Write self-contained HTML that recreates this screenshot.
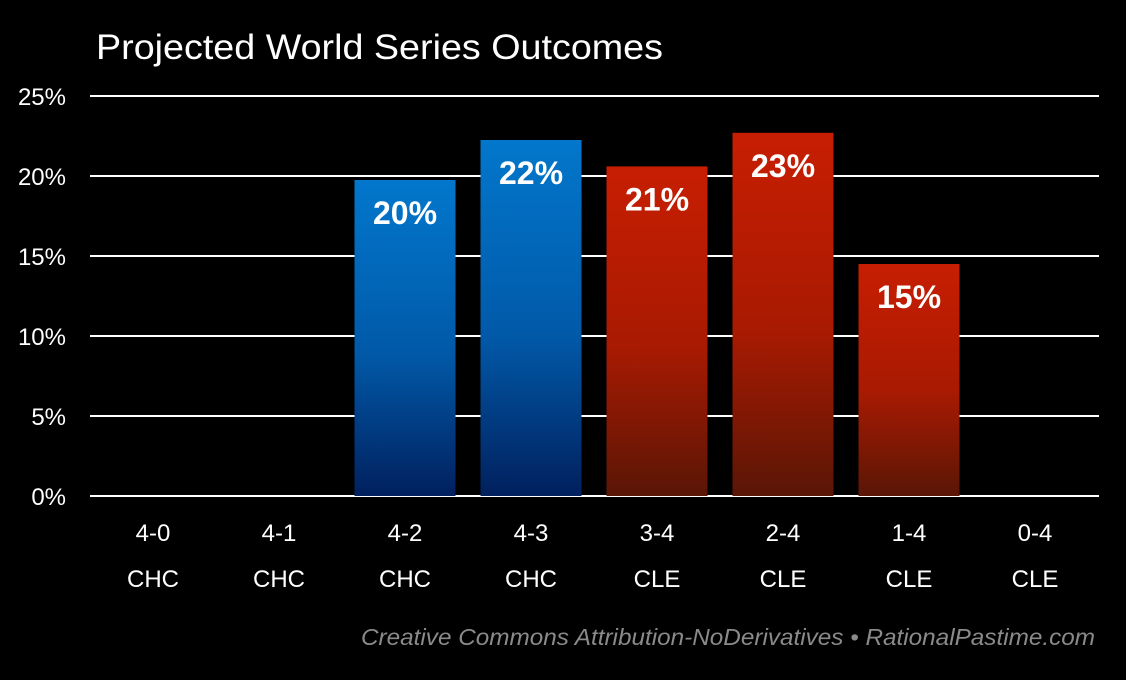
<!DOCTYPE html>
<html><head><meta charset="utf-8">
<style>
html,body{margin:0;padding:0;background:#000;}
svg{display:block;}
text{font-family:"Liberation Sans",sans-serif;}
</style></head>
<body>
<svg id="chart" width="1126" height="680" viewBox="0 0 1126 680" xmlns="http://www.w3.org/2000/svg">
<defs>
<linearGradient id="gBlue" x1="0" y1="0" x2="0" y2="1">
<stop offset="0" stop-color="#0277cc"/><stop offset="0.55" stop-color="#0159a8"/><stop offset="1" stop-color="#01205e"/>
</linearGradient>
<linearGradient id="gRed" x1="0" y1="0" x2="0" y2="1">
<stop offset="0" stop-color="#c71e02"/><stop offset="0.55" stop-color="#a81a02"/><stop offset="1" stop-color="#5a1606"/>
</linearGradient>
</defs>
<text x="96" y="59" font-size="35" fill="#fff" textLength="567" lengthAdjust="spacingAndGlyphs">Projected World Series Outcomes</text>
<g id="grid"></g>
<g id="bars"></g>
<g id="labels"></g>
<text x="361" y="645" font-size="23" font-style="italic" fill="#8a8a8a" textLength="734" lengthAdjust="spacingAndGlyphs">Creative Commons Attribution-NoDerivatives • RationalPastime.com</text>
</svg>
<script>
const categories = ["4-0","4-1","4-2","4-3","3-4","2-4","1-4","0-4"];
const teams = ["CHC","CHC","CHC","CHC","CLE","CLE","CLE","CLE"];
const values = [0,0,19.75,22.25,20.6,22.7,14.5,0];
const valueLabels = ["","","20%","22%","21%","23%","15%",""];
const yTicks = [0,5,10,15,20,25];

const NS="http://www.w3.org/2000/svg";
const y0=496, pxPer=16, x0=90, x1=1099, step=126, firstCenter=153, barW=101;
const yScale=v=>y0-v*pxPer;
const xCenter=i=>firstCenter+i*step;
function mk(tag,attrs,parent){const e=document.createElementNS(NS,tag);for(const k in attrs)e.setAttribute(k,attrs[k]);parent.appendChild(e);return e;}
const grid=document.getElementById('grid'), bars=document.getElementById('bars'), labels=document.getElementById('labels');
yTicks.forEach(t=>{
  const l=mk('line',{x1:x0,x2:x1,y1:yScale(t),y2:yScale(t),stroke:'#fff','stroke-width':2},grid);
  
  
  const tx=mk('text',{x:66,y:yScale(t)+9,'font-size':24,fill:'#fff','text-anchor':'end'},grid);
  tx.textContent=t+'%';
  
  
});
categories.forEach((c,i)=>{
  const cx=xCenter(i);
  if(values[i]>0){
    const r=mk('rect',{x:cx-barW/2,y:yScale(values[i]),width:barW,height:values[i]*pxPer,fill:teams[i]==='CHC'?'url(#gBlue)':'url(#gRed)'},bars);
    
    
    const v=mk('text',{x:cx,y:yScale(values[i])+44,'font-size':32,'font-weight':'bold',fill:'#fff','text-anchor':'middle'},labels);
    v.textContent=valueLabels[i];
    
    
  }
  const a=mk('text',{x:cx,y:541,'font-size':24,fill:'#fff','text-anchor':'middle'},labels);
  a.textContent=c;
  
  
  const b=mk('text',{x:cx,y:587,'font-size':24,fill:'#fff','text-anchor':'middle'},labels);
  b.textContent=teams[i];
  
  
});
</script>
</body></html>
